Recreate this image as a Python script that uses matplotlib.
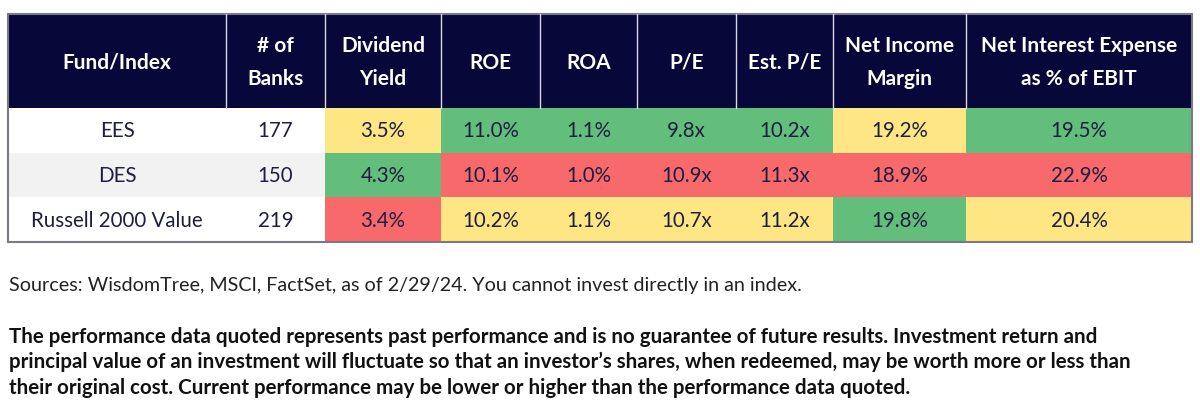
import matplotlib
matplotlib.use("Agg")
import matplotlib.pyplot as plt
from matplotlib.patches import Rectangle

# ===== 数据 =====
columns = ["Fund/Index", "# of\nBanks", "Dividend\nYield", "ROE", "ROA", "P/E",
           "Est. P/E", "Net Income\nMargin", "Net Interest Expense\nas % of EBIT"]
funds = ["EES", "DES", "Russell 2000 Value"]
n_banks = [177, 150, 219]
div_yield = [3.5, 4.3, 3.4]
roe = [11.0, 10.1, 10.2]
roa = [1.1, 1.0, 1.1]
pe = [9.8, 10.9, 10.7]
est_pe = [10.2, 11.3, 11.2]
ni_margin = [19.2, 18.9, 19.8]
int_exp = [19.5, 22.9, 20.4]

# 条件格式评级 (g=best, y=mid, r=worst)，按列
ratings = {
    "div_yield": ["y", "g", "r"],
    "roe":       ["g", "r", "y"],
    "roa":       ["g", "r", "y"],
    "pe":        ["g", "r", "y"],
    "est_pe":    ["g", "r", "y"],
    "ni_margin": ["y", "r", "g"],
    "int_exp":   ["g", "r", "y"],
}

source_note = ("Sources: WisdomTree, MSCI, FactSet, as of 2/29/24. "
               "You cannot invest directly in an index.")
disclaimer = [
    "The performance data quoted represents past performance and is no guarantee of future results. Investment return and",
    "principal value of an investment will fluctuate so that an investor\u2019s shares, when redeemed, may be worth more or less than",
    "their original cost. Current performance may be lower or higher than the performance data quoted.",
]

# ===== 样式 =====
plt.rcParams['font.family'] = ['Lato', 'DejaVu Sans']
NAVY = '#07073a'
TXT = '#1e1e40'
RATE_COL = {'g': '#63be7b', 'y': '#ffe684', 'r': '#f8696b'}
row_bg = ['white', '#f2f2f2', 'white']

col_edges = [8, 226, 325, 441, 540, 637, 736, 833, 966, 1192]
top, head_bot = 14, 108
row_h = 44.7
FS_HEAD, FS_BODY = 15, 14.8

fig = plt.figure(figsize=(12, 4.17), dpi=100)
ax = fig.add_axes([0, 0, 1, 1])
ax.set_xlim(0, 1200)
ax.set_ylim(417, 0)
ax.axis('off')

# header
ax.add_patch(Rectangle((col_edges[0], top), col_edges[-1] - col_edges[0], head_bot - top,
                       facecolor=NAVY, edgecolor='none'))
for i, lab in enumerate(columns):
    xc = (col_edges[i] + col_edges[i + 1]) / 2
    yc = (top + head_bot) / 2 + 1.5
    lines = lab.split('\n')
    if len(lines) == 1:
        ax.text(xc, yc, lines[0], color='white', fontsize=FS_HEAD, fontweight='bold',
                ha='center', va='center')
    else:
        ax.text(xc, yc - 16.5, lines[0], color='white', fontsize=FS_HEAD, fontweight='bold',
                ha='center', va='center')
        ax.text(xc, yc + 16.5, lines[1], color='white', fontsize=FS_HEAD, fontweight='bold',
                ha='center', va='center')
    if i > 0:
        ax.plot([col_edges[i], col_edges[i]], [top, head_bot], color='#d8d8e0', lw=1.0)

# body
metric_cols = [
    ("div_yield", [f"{v:.1f}%" for v in div_yield]),
    ("roe", [f"{v:.1f}%" for v in roe]),
    ("roa", [f"{v:.1f}%" for v in roa]),
    ("pe", [f"{v:.1f}x" for v in pe]),
    ("est_pe", [f"{v:.1f}x" for v in est_pe]),
    ("ni_margin", [f"{v:.1f}%" for v in ni_margin]),
    ("int_exp", [f"{v:.1f}%" for v in int_exp]),
]
for r in range(len(funds)):
    y0 = head_bot + r * row_h
    yc = y0 + row_h / 2
    cells = [(funds[r], row_bg[r]), (str(n_banks[r]), row_bg[r])]
    for key, vals in metric_cols:
        cells.append((vals[r], RATE_COL[ratings[key][r]]))
    for c, (txt, bg) in enumerate(cells):
        x0, x1 = col_edges[c], col_edges[c + 1]
        ax.add_patch(Rectangle((x0, y0), x1 - x0, row_h, facecolor=bg, edgecolor='none'))
        ax.text((x0 + x1) / 2, yc + 1, txt, color=TXT, fontsize=FS_BODY,
                ha='center', va='center')

# outer border
bot = head_bot + len(funds) * row_h
ax.add_patch(Rectangle((col_edges[0], top), col_edges[-1] - col_edges[0], bot - top,
                       facecolor='none', edgecolor='#7a7a86', lw=1.5))

# footer
ax.text(9, 286, source_note, color='#222222', fontsize=14.2, ha='left', va='center')
for k, line in enumerate(disclaimer):
    ax.text(9, 337 + k * 25.3, line, color='#111111', fontsize=14.8, fontweight='bold',
            ha='left', va='center')

fig.savefig('out.png', dpi=100)
plt.close(fig)
